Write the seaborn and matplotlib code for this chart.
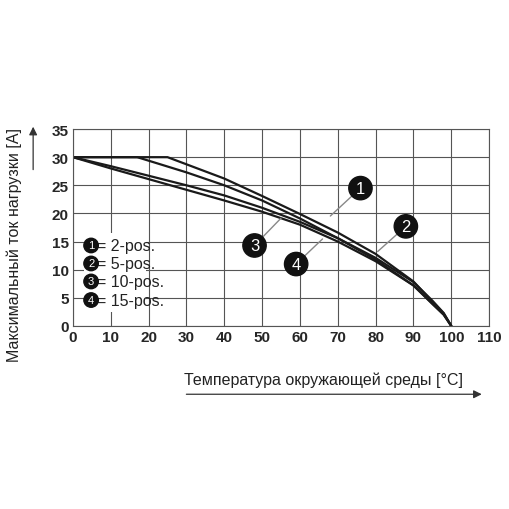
import matplotlib
matplotlib.use("Agg")
import matplotlib.pyplot as plt
import seaborn as sns
import pandas as pd

sns.set_theme(style="white")
plt.rcParams['font.family'] = ['Liberation Sans', 'DejaVu Sans']

x1 = [0, 25, 40, 50, 60, 70, 80, 90, 95, 98, 100]
y1 = [30, 30, 26.2, 23.1, 19.9, 16.6, 12.8, 7.9, 4.3, 2.2, 0]
x2 = [0, 17, 30, 40, 50, 60, 70, 80, 90, 95, 98, 100]
y2 = [30, 30, 27.3, 25, 22.3, 19.1, 15.6, 11.8, 7.2, 3.9, 2.0, 0]
x3 = [0, 10, 20, 30, 40, 50, 60, 70, 80, 90, 95, 98, 100]
y3 = [30, 28.4, 26.7, 25, 23.2, 21, 18.5, 15.6, 12.1, 7.8, 4.5, 2.3, 0]
x4 = [0, 10, 20, 30, 40, 50, 60, 70, 80, 90, 95, 98, 100]
y4 = [30, 28, 26.1, 24.2, 22.3, 20.3, 18, 15, 11.5, 7.2, 4.0, 2.0, 0]
names = ["2-pos.", "5-pos.", "10-pos.", "15-pos."]
xticks = list(range(0, 111, 10))
yticks = list(range(0, 36, 5))

frames = []
for n, xs, ys in zip(names, [x1, x2, x3, x4], [y1, y2, y3, y4]):
    frames.append(pd.DataFrame({"x": xs, "y": ys, "s": n}))
df = pd.concat(frames)

fig = plt.figure(figsize=(5.1, 5.1), dpi=100)
ax = fig.add_axes([0.143, 0.359, 0.816, 0.386])
sns.lineplot(data=df, x="x", y="y", hue="s", hue_order=names, palette=["#1a1a1a"] * 4,
             linewidth=1.6, legend=False, ax=ax, sort=False)
ax.set_xlim(0, 110)
ax.set_ylim(0, 35)
ax.set_xticks(xticks)
ax.set_yticks(yticks)
ax.grid(True, color="#555555", linewidth=0.8)
for s in ax.spines.values():
    s.set_color("#555555")
    s.set_linewidth(0.8)
ax.tick_params(labelsize=11, pad=3, length=0)
for lab in ax.get_xticklabels() + ax.get_yticklabels():
    lab.set_fontweight("bold")
ax.set_xlabel("")
ax.set_ylabel("")

def badge(x, y, t, lx, ly):
    ax.annotate("", xy=(lx, ly), xytext=(x, y),
                arrowprops=dict(arrowstyle="-", color="#888888", lw=1))
    ax.text(x, y, t, ha="center", va="center", color="white", fontsize=12,
            bbox=dict(boxstyle="circle,pad=0.25", fc="#111111", ec="#111111"), zorder=5)

badge(76, 24.5, "1", 67.5, 19.2)
badge(88, 17.7, "2", 80, 12.9)
badge(48, 14.3, "3", 55.5, 19.5)
badge(59, 11.0, "4", 66.5, 15.8)

rows = [14.3, 11.1, 7.9, 4.6]
for i, n in enumerate(names):
    ax.text(6.3, rows[i], "= " + n, ha="left", va="center", fontsize=11.5,
            color="#222222", zorder=6)
    ax.text(4.8, rows[i], str(i + 1), ha="center", va="center", color="white",
            fontsize=8, bbox=dict(boxstyle="circle,pad=0.2", fc="#111111", ec="#111111"), zorder=6)
ax.add_patch(plt.Rectangle((2.8, 2.5), 16.5, 14.0, fc="white", ec="none", zorder=4))

fig.text(0.36, 0.255, "Температура окружающей среды [°C]", fontsize=11.5, color="#222222",
         va="center", ha="left")
fig.add_artist(matplotlib.patches.FancyArrowPatch((0.36, 0.225), (0.95, 0.225),
               transform=fig.transFigure, arrowstyle="-|>", mutation_scale=12, color="#333333", lw=0.9))
fig.text(0.027, 0.52, "Максимальный ток нагрузки [A]", fontsize=11.5, color="#222222",
         rotation=90, va="center", ha="center")
fig.add_artist(matplotlib.patches.FancyArrowPatch((0.065, 0.66), (0.065, 0.755),
               transform=fig.transFigure, arrowstyle="-|>", mutation_scale=12, color="#333333", lw=0.9))

fig.savefig("out.png", dpi=100)
